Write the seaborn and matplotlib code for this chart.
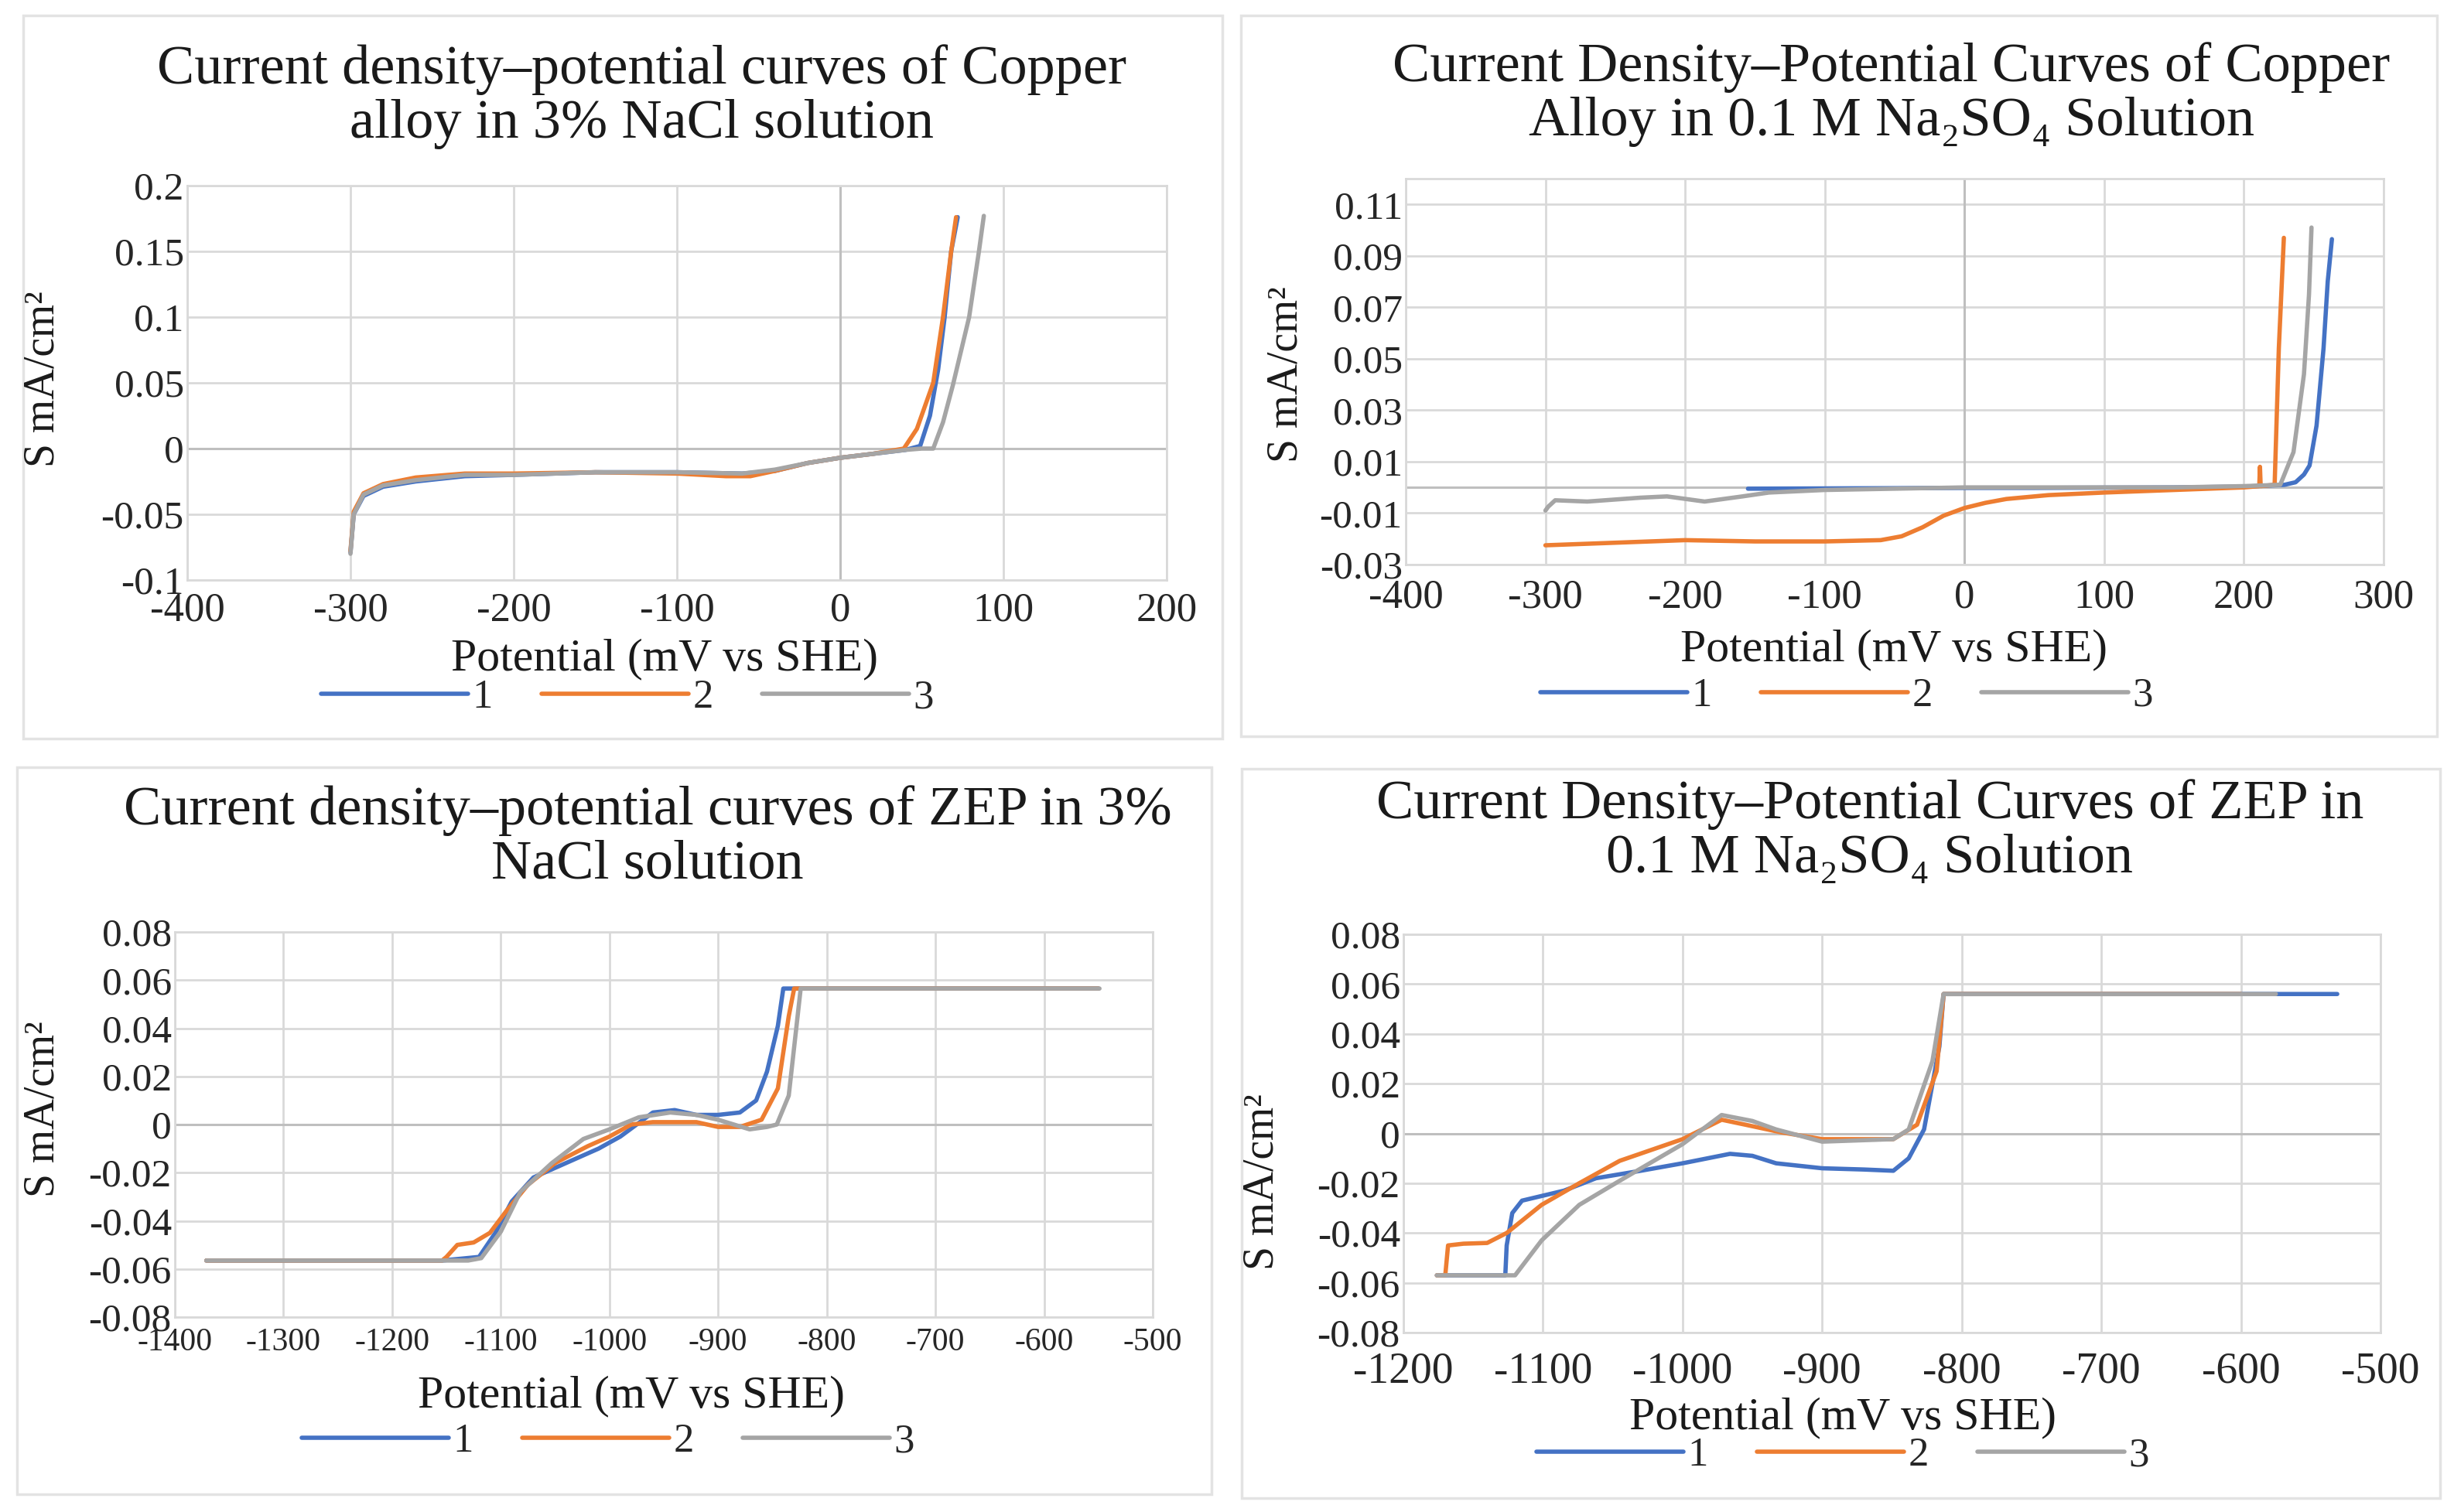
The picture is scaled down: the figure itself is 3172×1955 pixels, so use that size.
import pandas as pd
import matplotlib
matplotlib.use("Agg")
import matplotlib.pyplot as plt
from matplotlib.patches import Rectangle
import seaborn as sns

# ---- data (mV vs SHE, mA/cm2) ----
# Copper alloy, 3% NaCl
a_x1 = [-300, -298, -292, -280, -260, -230, -200, -150, -100, -60, -40, -20, 0, 20, 40, 49, 55, 60, 64, 68, 72]
a_y1 = [-0.079, -0.05, -0.036, -0.029, -0.025, -0.021, -0.020, -0.018, -0.018, -0.019, -0.017, -0.011, -0.007,
        -0.004, -0.001, 0.002, 0.025, 0.06, 0.10, 0.15, 0.176]
a_x2 = [-300, -298, -292, -280, -260, -230, -200, -150, -100, -70, -55, -40, -20, 0, 20, 39, 47, 57, 63, 68, 71]
a_y2 = [-0.078, -0.048, -0.034, -0.027, -0.022, -0.019, -0.019, -0.018, -0.019, -0.021, -0.021, -0.017, -0.011,
        -0.007, -0.004, 0.0, 0.015, 0.05, 0.10, 0.15, 0.176]
a_x3 = [-300, -298, -292, -280, -260, -230, -200, -150, -100, -60, -40, -20, 0, 20, 40, 50, 57, 63, 69, 79, 85, 88]
a_y3 = [-0.08, -0.05, -0.035, -0.028, -0.024, -0.020, -0.020, -0.018, -0.018, -0.019, -0.016, -0.011, -0.007,
        -0.004, -0.001, 0.0, 0.0, 0.02, 0.048, 0.10, 0.15, 0.177]

# Copper alloy, 0.1 M Na2SO4
b_x1 = [-155, -100, -50, 0, 50, 100, 150, 200, 229, 237, 243, 247, 252, 257, 260, 263]
b_y1 = [-0.0005, -0.0004, -0.0003, -0.0002, -0.0002, -0.0001, 0.0, 0.0003, 0.001, 0.002, 0.005, 0.0085,
        0.024, 0.054, 0.080, 0.0965]
b_x2 = [-300, -250, -200, -150, -100, -60, -45, -30, -15, 0, 15, 30, 60, 100, 150, 200, 211, 211.5, 212,
        222, 225, 228.6]
b_y2 = [-0.0225, -0.0215, -0.0205, -0.021, -0.021, -0.0205, -0.019, -0.0155, -0.011, -0.008, -0.006, -0.0045,
        -0.003, -0.002, -0.001, 0.0, 0.0005, 0.008, 0.0005, 0.001, 0.054, 0.097]
b_x3 = [-300, -298, -293, -270, -232, -213, -186, -159, -140, -100, -50, 0, 50, 100, 150, 200, 226, 235.5,
        243, 246.6, 248.4]
b_y3 = [-0.009, -0.0075, -0.005, -0.0055, -0.004, -0.0035, -0.0055, -0.0035, -0.002, -0.001, -0.0005, 0.0,
        0.0, 0.0, 0.0, 0.0005, 0.001, 0.0137, 0.044, 0.075, 0.101]

# ZEP, 3% NaCl
c_x1 = [-1371, -1154, -1120, -1105, -1090, -1070, -1050, -1030, -1010, -990, -975, -960, -940, -920, -900,
        -880, -865, -855, -845, -840, -550]
c_y1 = [-0.0565, -0.0565, -0.055, -0.045, -0.032, -0.022, -0.018, -0.014, -0.010, -0.005, 0.0, 0.005, 0.006,
        0.004, 0.004, 0.005, 0.010, 0.022, 0.041, 0.0565, 0.0565]
c_x2 = [-1371, -1154, -1150, -1140, -1125, -1110, -1095, -1075, -1050, -1020, -1000, -980, -960, -940, -920,
        -900, -880, -860, -845, -835, -830, -550]
c_y2 = [-0.0565, -0.0565, -0.055, -0.05, -0.049, -0.045, -0.036, -0.025, -0.016, -0.009, -0.005, 0.0, 0.001,
        0.001, 0.001, -0.001, -0.001, 0.002, 0.015, 0.045, 0.0565, 0.0565]
c_x3 = [-1371, -1130, -1118, -1100, -1082, -1053, -1024, -1000, -973, -944, -920, -900, -871, -855, -846,
        -835, -824, -549]
c_y3 = [-0.0565, -0.0565, -0.0555, -0.0445, -0.028, -0.016, -0.006, -0.002, 0.003, 0.005, 0.004, 0.002,
        -0.002, -0.001, 0.0, 0.012, 0.0565, 0.0565]

# ZEP, 0.1 M Na2SO4
d_x1 = [-1176, -1127, -1126, -1122, -1115, -1100, -1085, -1062, -1030, -1000, -966, -950, -933, -900, -870,
        -849, -838, -827, -816, -813, -531]
d_y1 = [-0.057, -0.057, -0.045, -0.032, -0.027, -0.025, -0.023, -0.018, -0.015, -0.012, -0.0082, -0.009,
        -0.012, -0.014, -0.0145, -0.015, -0.010, 0.0016, 0.035, 0.056, 0.056]
d_x2 = [-1176, -1170, -1168, -1157, -1140, -1126, -1101, -1074, -1045, -1000, -972, -955, -930, -900, -849,
        -832, -818, -813, -600]
d_y2 = [-0.057, -0.057, -0.045, -0.0443, -0.044, -0.040, -0.0287, -0.020, -0.011, -0.0023, 0.0055, 0.0035,
        0.0005, -0.0023, -0.0023, 0.0035, 0.025, 0.056, 0.056]
d_x3 = [-1176, -1120, -1101, -1074, -1045, -1000, -972, -950, -933, -900, -849, -838, -821, -813, -575]
d_y3 = [-0.057, -0.057, -0.043, -0.0287, -0.019, -0.0043, 0.0074, 0.005, 0.0016, -0.0033, -0.0023, 0.0016,
        0.029, 0.056, 0.056]

series_names = ["1", "2", "3"]
colors = ["#4472C4", "#ED7D31", "#A5A5A5"]

titles = [
    "Current density\u2013potential curves of Copper\nalloy in 3% NaCl solution",
    "Current Density\u2013Potential Curves of Copper\nAlloy in 0.1 M Na\u2082SO\u2084 Solution",
    "Current density\u2013potential curves of ZEP in 3%\nNaCl solution",
    "Current Density\u2013Potential Curves of ZEP in\n0.1 M Na\u2082SO\u2084 Solution",
]

a_xticks = [-400, -300, -200, -100, 0, 100, 200]
a_yticks = [-0.1, -0.05, 0, 0.05, 0.1, 0.15, 0.2]
a_ylabels = ["-0.1", "-0.05", "0", "0.05", "0.1", "0.15", "0.2"]
b_xticks = [-400, -300, -200, -100, 0, 100, 200, 300]
b_yticks = [-0.03, -0.01, 0.01, 0.03, 0.05, 0.07, 0.09, 0.11]
b_ylabels = ["-0.03", "-0.01", "0.01", "0.03", "0.05", "0.07", "0.09", "0.11"]
c_xticks = [-1400, -1300, -1200, -1100, -1000, -900, -800, -700, -600, -500]
cd_yticks = [-0.08, -0.06, -0.04, -0.02, 0, 0.02, 0.04, 0.06, 0.08]
cd_ylabels = ["-0.08", "-0.06", "-0.04", "-0.02", "0", "0.02", "0.04", "0.06", "0.08"]
d_xticks = [-1200, -1100, -1000, -900, -800, -700, -600, -500]

sns.set_theme(style="white")
plt.rcParams["font.family"] = ["Liberation Serif", "DejaVu Serif"]
plt.rcParams["axes.unicode_minus"] = False

W, H = 3172, 1955
fig = plt.figure(figsize=(W / 100, H / 100), dpi=100)


def fx(px):
    return px / W


def fy(py):
    return 1 - py / H


# panel layout in pixels: box, plot area, text anchors
panels = [
    dict(box=(30, 20, 1580, 955), plot=(242, 240, 1508, 750),
         data=[(a_x1, a_y1), (a_x2, a_y2), (a_x3, a_y3)],
         xlim=(-400, 200), ylim=(-0.1, 0.2), xticks=a_xticks, yticks=a_yticks, ylabels=a_ylabels,
         title_xy=(830, 125), xlab_xy=(859, 852), leg_xy=(811, 902), ylab_xy=(55, 490),
         xtick_size=38, xpad=11, zero_x=True),
    dict(box=(1604, 20, 3150, 952), plot=(1817, 231, 3081, 730),
         data=[(b_x1, b_y1), (b_x2, b_y2), (b_x3, b_y3)],
         xlim=(-400, 300), ylim=(-0.03, 0.12), xticks=b_xticks, yticks=b_yticks, ylabels=b_ylabels,
         title_xy=(2445, 122), xlab_xy=(2448, 840), leg_xy=(2387, 900), ylab_xy=(1663, 484),
         xtick_size=38, xpad=13, zero_x=True),
    dict(box=(22, 992, 1566, 1932), plot=(226, 1205, 1490, 1703),
         data=[(c_x1, c_y1), (c_x2, c_y2), (c_x3, c_y3)],
         xlim=(-1400, -500), ylim=(-0.08, 0.08), xticks=c_xticks, yticks=cd_yticks, ylabels=cd_ylabels,
         title_xy=(837, 1083), xlab_xy=(816, 1805), leg_xy=(786, 1864), ylab_xy=(55, 1434),
         xtick_size=30, xpad=10, zero_x=False),
    dict(box=(1605, 994, 3154, 1937), plot=(1814, 1208, 3077, 1723),
         data=[(d_x1, d_y1), (d_x2, d_y2), (d_x3, d_y3)],
         xlim=(-1200, -500), ylim=(-0.08, 0.08), xticks=d_xticks, yticks=cd_yticks, ylabels=cd_ylabels,
         title_xy=(2417, 1075), xlab_xy=(2382, 1833), leg_xy=(2382, 1882), ylab_xy=(1632, 1528),
         xtick_size=40, xpad=18, zero_x=False),
]

grid_col = "#D9D9D9"

for p, title in zip(panels, titles):
    bx0, by0, bx1, by1 = p["box"]
    fig.patches.append(Rectangle((fx(bx0), fy(by1)), fx(bx1 - bx0), (by1 - by0) / H,
                                 transform=fig.transFigure, fill=False,
                                 edgecolor="#E3E3E3", linewidth=2.5))
    x0, y0, x1, y1 = p["plot"]
    ax = fig.add_axes([fx(x0), fy(y1), fx(x1 - x0), (y1 - y0) / H])

    frames = []
    for name, (xs, ys) in zip(series_names, p["data"]):
        frames.append(pd.DataFrame({"Potential": xs, "Current": ys, "Series": name}))
    df = pd.concat(frames, ignore_index=True)
    sns.lineplot(data=df, x="Potential", y="Current", hue="Series", palette=colors,
                 sort=False, estimator=None, linewidth=4, legend=False, ax=ax)

    ax.set_xlim(*p["xlim"])
    ax.set_ylim(*p["ylim"])
    ax.set_xticks(p["xticks"])
    ax.set_xticklabels([str(t) for t in p["xticks"]], fontsize=p["xtick_size"])
    ax.set_yticks(p["yticks"])
    ax.set_yticklabels(p["ylabels"], fontsize=37)
    ax.tick_params(length=0, pad=3)
    ax.tick_params(axis="x", pad=p["xpad"])
    ax.grid(True, color=grid_col, linewidth=2)
    ax.axhline(0, color="#BFBFBF", linewidth=2.2, zorder=1)
    if p["zero_x"]:
        ax.axvline(0, color="#BFBFBF", linewidth=2.2, zorder=1)
    ax.set_axisbelow(True)
    for s in ax.spines.values():
        s.set_color(grid_col)
        s.set_linewidth(2)
    ax.set_xlabel("")
    ax.set_ylabel("")

    tx, ty = p["title_xy"]
    fig.text(fx(tx), fy(ty), title, ha="center", va="center", fontsize=52,
             linespacing=1.1, color="#1a1a1a")
    lx, ly = p["xlab_xy"]
    fig.text(fx(lx), fy(ly), "Potential (mV vs SHE)", ha="center", va="center",
             fontsize=43, color="#1a1a1a")
    yx, yy = p["ylab_xy"]
    fig.text(fx(yx), fy(yy), "S mA/cm\u00b2", ha="center", va="center", rotation=90,
             fontsize=40, color="#1a1a1a")

    handles = ax.get_lines()[:3]
    gx, gy = p["leg_xy"]
    fig.legend(handles, series_names, loc="center", bbox_to_anchor=(fx(gx), fy(gy)),
               ncol=3, frameon=False, fontsize=38, handlelength=3.6, columnspacing=1.2,
               handletextpad=0.1, borderpad=0.1)

fig.savefig("out.png", dpi=100, facecolor="white")
